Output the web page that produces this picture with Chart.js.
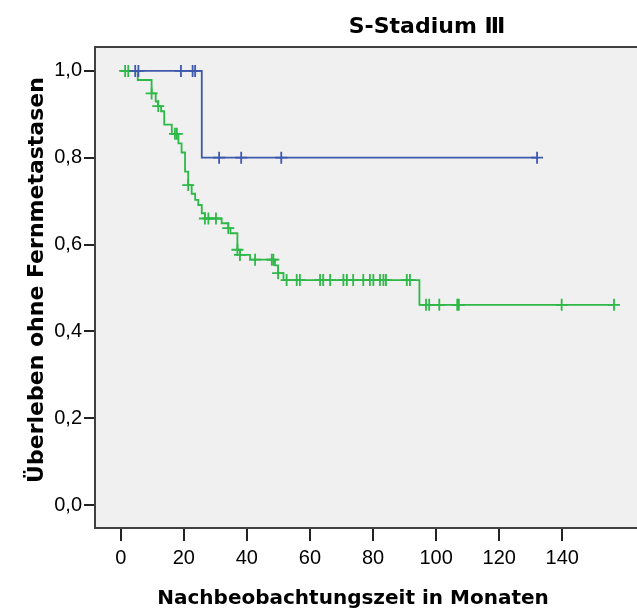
<!DOCTYPE html>
<html lang="de">
<head>
<meta charset="utf-8">
<title>S-Stadium Ⅲ</title>
<script src="https://cdn.jsdelivr.net/npm/chart.js@4.4.1/dist/chart.umd.min.js"></script>
<style>
  html, body { margin: 0; padding: 0; background: #fff; overflow: hidden; }
  #wrap { width: 637px; height: 608px; overflow: hidden; }
</style>
</head>
<body>
<div id="wrap"><canvas id="kmChart" width="700" height="608"></canvas></div>
<script>
var xTicks = [0, 20, 40, 60, 80, 100, 120, 140];
var yTicks = [0, 0.2, 0.4, 0.6, 0.8, 1.0];

// blaue Gruppe: Zeitpunkte (Monate) und Rate ab diesem Zeitpunkt
var blauZeit = [0, 25.7, 132.0];
var blauRate = [1.0, 0.8, 0.8];
var blauZensiert = [4.6, 5.6, 19.1, 22.8, 23.6, 31.2, 38.2, 50.9, 132.0];

// grüne Gruppe
var gruenZeit = [0, 5.4, 9.8, 11.1, 11.8, 12.8, 13.8, 16.2, 18.3, 19.3, 20.4, 21.4, 22.5, 23.6,
  24.6, 25.7, 26.7, 32.0, 34.1, 34.8, 37.0, 37.8, 41.0, 48.9, 49.9, 51.6, 94.7, 156.4];
var gruenRate = [1.0, 0.979, 0.948, 0.929, 0.919, 0.907, 0.876, 0.855, 0.833, 0.812, 0.768, 0.737, 0.717, 0.703,
  0.691, 0.672, 0.660, 0.649, 0.638, 0.626, 0.588, 0.576, 0.565, 0.552, 0.534, 0.518, 0.461, 0.461];
var gruenZensiert = [1.4, 2.4, 9.8, 11.9, 17.2, 17.8, 21.4, 26.7, 27.8, 30.2, 34.1, 37.0, 37.8, 42.6,
  47.9, 48.4, 49.9, 52.6, 55.8, 56.8, 63.2, 64.2, 66.4, 70.6, 71.7, 73.7, 76.9, 79.0, 80.1, 82.2,
  83.3, 84.1, 90.7, 91.7, 96.8, 97.8, 101.0, 106.7, 107.2, 139.8, 156.4];

var blau = '#3e58ac';
var gruen = '#2eb848';

function kurve(zeit, rate) {
  return zeit.map(function (t, i) { return { x: t, y: rate[i] }; });
}

// Rate der Stufe, die zum Zeitpunkt t gilt
function rateBei(zeit, rate, t) {
  var r = rate[0];
  for (var i = 0; i < zeit.length; i++) {
    if (zeit[i] <= t) r = rate[i];
  }
  return r;
}

function zensiert(zeit, rate, liste) {
  return liste.map(function (t) { return { x: t, y: rateBei(zeit, rate, t) }; });
}

// grauer Plotbereich mit Rahmen, dazu Titel und Achsenbeschriftungen
var rahmen = {
  id: 'rahmen',
  beforeDraw: function (chart) {
    var a = chart.chartArea, ctx = chart.ctx;
    ctx.save();
    ctx.fillStyle = '#f0f0f0';
    ctx.fillRect(a.left, a.top, a.right - a.left, a.bottom - a.top);
    ctx.restore();
  },
  afterDraw: function (chart) {
    var a = chart.chartArea, ctx = chart.ctx;
    ctx.save();
    ctx.strokeStyle = '#404040';
    ctx.lineWidth = 2;
    ctx.strokeRect(a.left, a.top, a.right - a.left, a.bottom - a.top);

    ctx.fillStyle = '#000';
    ctx.textAlign = 'center';
    ctx.textBaseline = 'alphabetic';
    ctx.font = 'bold 22px "DejaVu Sans"';
    ctx.fillText('S-Stadium Ⅲ', 427, 33);

    ctx.font = 'bold 20px "DejaVu Sans"';
    ctx.fillText('Nachbeobachtungszeit in Monaten', 353, 604);

    ctx.translate(43, 280);
    ctx.rotate(-Math.PI / 2);
    ctx.font = 'bold 22px "DejaVu Sans"';
    ctx.fillText('Überleben ohne Fernmetastasen', 0, 0);
    ctx.restore();
  }
};

var tickFont = { family: '"Liberation Sans", Arial, sans-serif', size: 20 };

var kmChart = new Chart(document.getElementById('kmChart'), {
  type: 'scatter',
  data: {
    datasets: [
      {
        label: 'blau',
        data: kurve(blauZeit, blauRate),
        showLine: true,
        stepped: 'before',
        borderColor: blau,
        borderWidth: 1.8,
        pointRadius: 0,
        order: 4,
      },
      {
        label: 'grün',
        data: kurve(gruenZeit, gruenRate),
        showLine: true,
        stepped: 'before',
        borderColor: gruen,
        borderWidth: 1.8,
        pointRadius: 0,
        order: 3,
      },
      {
        label: 'grün zensiert',
        data: zensiert(gruenZeit, gruenRate, gruenZensiert),
        showLine: false,
        pointStyle: 'cross',
        pointRadius: 6,
        pointBorderWidth: 1.8,
        borderColor: gruen,
        order: 2,
      },
      {
        label: 'blau zensiert',
        data: zensiert(blauZeit, blauRate, blauZensiert),
        showLine: false,
        pointStyle: 'cross',
        pointRadius: 6,
        pointBorderWidth: 1.8,
        borderColor: blau,
        order: 1,
      },
    ],
  },
  options: {
    responsive: false,
    animation: false,
    events: [],
    layout: { padding: { top: 47, right: 21, left: 0, bottom: 0 } },
    plugins: {
      legend: { display: false },
      tooltip: { enabled: false },
    },
    scales: {
      x: {
        type: 'linear',
        min: -8.15,
        max: 177,
        afterBuildTicks: function (scale) {
          scale.ticks = xTicks.map(function (v) { return { value: v }; });
        },
        afterFit: function (scale) { scale.height = 80; },
        border: { display: false },
        grid: { drawOnChartArea: false, drawTicks: true, tickLength: 13, color: '#222', lineWidth: 2 },
        ticks: { font: tickFont, color: '#000', padding: 5, maxRotation: 0, autoSkip: false },
      },
      y: {
        type: 'linear',
        min: -0.053,
        max: 1.055,
        afterBuildTicks: function (scale) {
          scale.ticks = yTicks.map(function (v) { return { value: v }; });
        },
        afterFit: function (scale) { scale.width = 95; },
        border: { display: false },
        grid: { drawOnChartArea: false, drawTicks: true, tickLength: 11, color: '#222', lineWidth: 2 },
        ticks: {
          font: tickFont,
          color: '#000',
          padding: 2,
          autoSkip: false,
          callback: function (v) { return v.toFixed(1).replace('.', ','); },
        },
      },
    },
  },
  plugins: [rahmen],
});
</script>
</body>
</html>
